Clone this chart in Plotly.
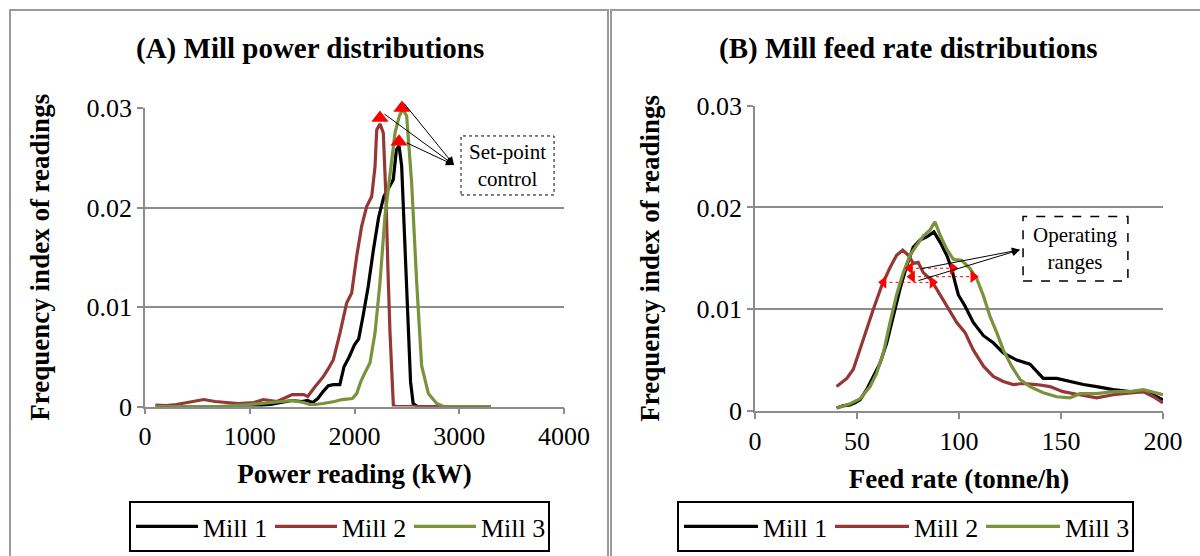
import plotly.graph_objects as go

# ---------------- DATA ----------------
# (A) Mill power distributions  (kW, frequency index)
power_m1_x = [100, 300, 500, 700, 900, 1000, 1100, 1200, 1300, 1400, 1500, 1550, 1600, 1650, 1700, 1750,
              1800, 1860, 1900, 1950, 2000, 2040, 2080, 2130, 2180, 2230, 2280, 2330, 2370, 2400, 2425,
              2450, 2480, 2510, 2535, 2560, 2600, 2800, 3000, 3300]
power_m1_y = [0, 0, 0, 0, 0, 0, 0.0001, 0.0002, 0.0004, 0.0006, 0.0005, 0.0006, 0.0004, 0.0008, 0.0015,
              0.0021, 0.0022, 0.0022, 0.0040, 0.0050, 0.0062, 0.0068, 0.0090, 0.0120, 0.0157, 0.0190,
              0.0211, 0.0221, 0.0228, 0.0258, 0.0262, 0.0242, 0.0158, 0.0075, 0.0025, 0.0003, 0, 0, 0, 0]

power_m2_x = [100, 200, 300, 450, 560, 670, 780, 890, 1040, 1130, 1260, 1330, 1406, 1516, 1553, 1625,
              1702, 1750, 1798, 1862, 1925, 1973, 2021, 2068, 2116, 2164, 2196, 2212, 2243, 2275, 2301,
              2320, 2339, 2371, 2400, 2600, 3000, 3300]
power_m2_y = [0.00015, 0.0001, 0.0002, 0.0005, 0.0007, 0.0005, 0.0004, 0.0003, 0.0004, 0.0007, 0.0005,
              0.0008, 0.0012, 0.0012, 0.0010, 0.0020, 0.0030, 0.0038, 0.0047, 0.0074, 0.0104, 0.0114,
              0.0151, 0.0181, 0.0201, 0.0211, 0.0241, 0.0278, 0.0284, 0.0275, 0.0208, 0.0135, 0.0074,
              0.0001, 0, 0, 0, 0]

power_m3_x = [100, 400, 700, 1000, 1100, 1187, 1300, 1406, 1460, 1516, 1570, 1625, 1700, 1760, 1810,
              1880, 1938, 1980, 2021, 2060, 2100, 2148, 2196, 2243, 2291, 2339, 2387, 2428, 2460, 2498,
              2546, 2594, 2641, 2705, 2785, 2850, 3000, 3300]
power_m3_y = [0, 0, 0, 0.0002, 0.0003, 0.0004, 0.0005, 0.0006, 0.0005, 0.0004, 0.0002, 0.0002, 0.0003,
              0.0004, 0.0005, 0.0007, 0.0008, 0.0008, 0.0013, 0.0025, 0.0034, 0.0044, 0.0074, 0.0124,
              0.0191, 0.0235, 0.0275, 0.0292, 0.0299, 0.0292, 0.0224, 0.0124, 0.0041, 0.0013, 0.0003,
              0, 0, 0]

# set-point markers (peaks)
setpoint_x = [2425, 2243, 2453]
setpoint_y = [0.0266, 0.0290, 0.0300]

# (B) Mill feed rate distributions (tonne/h, frequency index)
feed_m1_x = [40, 43, 46.6, 49, 51.5, 54.7, 58, 61.3, 64.6, 67.8, 71.1, 74.4, 77.6, 80.9, 84.2, 87.7, 90.7,
             94, 96.4, 98, 99.7, 103, 107, 112, 116.8, 121.7, 128.3, 134.8, 141.3, 147.9, 154.4, 161,
             167.5, 175.6, 183.8, 192, 196, 200]
feed_m1_y = [0.0003, 0.0005, 0.0006, 0.0008, 0.0011, 0.0021, 0.0034, 0.0047, 0.0067, 0.0093, 0.0120,
             0.0143, 0.0161, 0.0168, 0.0171, 0.0176, 0.0166, 0.0153, 0.0140, 0.0127, 0.0114, 0.0103,
             0.0087, 0.0074, 0.0067, 0.0057, 0.0050, 0.0046, 0.0032, 0.0032, 0.0029, 0.0026, 0.0024,
             0.0021, 0.0019, 0.0019, 0.0015, 0.0011]

feed_m2_x = [40, 45, 48.2, 51.5, 54.7, 58, 62.1, 66.2, 69.4, 72.4, 75.2, 77.6, 80, 82.5, 85.8, 89, 94,
             98.9, 103, 107, 112, 116.8, 121.7, 126.6, 131.5, 138, 144.6, 151, 159, 167.5, 175.6, 183.8,
             190.3, 195.3, 200]
feed_m2_y = [0.0024, 0.0032, 0.0041, 0.0060, 0.0080, 0.0100, 0.0123, 0.0141, 0.0153, 0.0158, 0.0153,
             0.0145, 0.0146, 0.0136, 0.0130, 0.0120, 0.0103, 0.0087, 0.0077, 0.0060, 0.0044, 0.0034,
             0.0029, 0.0026, 0.0027, 0.0026, 0.0024, 0.0019, 0.0016, 0.0013, 0.0016, 0.0018, 0.0019,
             0.0014, 0.0008]

feed_m3_x = [40, 46.6, 51.5, 56.4, 59.6, 62.9, 66.2, 69.4, 72.7, 76, 79.3, 82.5, 85.8, 88.2, 90.7, 94,
             97.2, 101.3, 105.4, 108.7, 112, 115.2, 118.5, 121.7, 125.8, 129.9, 134.8, 141.3, 147.9,
             154.4, 159.3, 167.5, 175.6, 183.8, 190.3, 196.9, 200]
feed_m3_y = [0.0003, 0.0007, 0.0012, 0.0024, 0.0037, 0.0057, 0.0087, 0.0114, 0.0136, 0.0153, 0.0163,
             0.0172, 0.0178, 0.0186, 0.0173, 0.0159, 0.0149, 0.0148, 0.0140, 0.0130, 0.0113, 0.0093,
             0.0077, 0.0060, 0.0044, 0.0031, 0.0024, 0.0018, 0.0014, 0.0013, 0.0017, 0.0017, 0.0019,
             0.0019, 0.0021, 0.0018, 0.0016]

# operating ranges (start, end, level) per mill
range_m1 = [76, 97, 0.01403]
range_m2 = [63, 87, 0.01264]
range_m3 = [77, 107, 0.01320]

mill_names = ["Mill 1", "Mill 2", "Mill 3"]
mill_colors = ["#000000", "#953735", "#77933C"]

# ---------------- FIGURE ----------------
W, H = 1200, 556
FONT = "Liberation Serif"


def px(xp):
    return xp / W


def py(yp):
    return 1 - yp / H


fig = go.Figure()

power = [(power_m1_x, power_m1_y), (power_m2_x, power_m2_y), (power_m3_x, power_m3_y)]
feed = [(feed_m1_x, feed_m1_y), (feed_m2_x, feed_m2_y), (feed_m3_x, feed_m3_y)]

for (xs, ys), name, col in zip(power, mill_names, mill_colors):
    fig.add_trace(go.Scatter(x=xs, y=ys, mode="lines", name=name, line=dict(color=col, width=3.2),
                             xaxis="x", yaxis="y", legend="legend"))
for (xs, ys), name, col in zip(feed, mill_names, mill_colors):
    fig.add_trace(go.Scatter(x=xs, y=ys, mode="lines", name=name, line=dict(color=col, width=3.2),
                             xaxis="x2", yaxis="y2", legend="legend2"))

# set-point triangles
fig.add_trace(go.Scatter(x=setpoint_x, y=setpoint_y, mode="markers", showlegend=False,
                         marker=dict(symbol="triangle-up", size=15, color="#FF0000"),
                         xaxis="x", yaxis="y", cliponaxis=False))

# operating range double arrows
for r in [range_m1, range_m3, range_m2]:
    fig.add_trace(go.Scatter(x=[r[0], r[1]], y=[r[2], r[2]], mode="lines+markers", showlegend=False,
                             line=dict(color="#FF0000", width=1, dash="dot"),
                             marker=dict(symbol=["triangle-left", "triangle-right"], size=11,
                                         color="#FF0000"),
                             xaxis="x2", yaxis="y2"))

axis_common = dict(showline=True, linecolor="#8C8C8C", linewidth=1.5, ticks="outside", ticklen=6,
                   tickcolor="#8C8C8C", tickwidth=1.5, zeroline=False,
                   tickfont=dict(family=FONT, size=26, color="black"))

fig.update_layout(
    width=W, height=H, margin=dict(l=0, r=0, t=0, b=0, autoexpand=False),
    paper_bgcolor="white", plot_bgcolor="white",
    font=dict(family=FONT, color="black"),
    xaxis=dict(domain=[px(145), px(564)], range=[0, 4000], dtick=1000, showgrid=False, anchor="y",
               title=dict(text="<b>Power reading (kW)</b>", font=dict(family=FONT, size=27), standoff=14),
               **axis_common),
    yaxis=dict(domain=[py(406.5), py(108)], range=[0, 0.03], dtick=0.01, showgrid=True,
               gridcolor="#8C8C8C", gridwidth=1.5, anchor="x",
               title=dict(text="<b>Frequency index of readings</b>", font=dict(family=FONT, size=27),
                          standoff=29),
               **axis_common),
    xaxis2=dict(domain=[px(755), px(1163)], range=[0, 200], dtick=50, showgrid=False, anchor="y2",
                title=dict(text="<b>Feed rate (tonne/h)</b>", font=dict(family=FONT, size=27), standoff=14),
                **axis_common),
    yaxis2=dict(domain=[py(411), py(105.7)], range=[0, 0.03], dtick=0.01, showgrid=True,
                gridcolor="#8C8C8C", gridwidth=1.5, anchor="x2",
                title=dict(text="<b>Frequency index of readings</b>", font=dict(family=FONT, size=27),
                           standoff=29),
                **axis_common),
    legend=dict(orientation="h", x=px(129), y=py(501), xanchor="left", yanchor="top",
                bordercolor="black", borderwidth=2, font=dict(family=FONT, size=26),
                itemwidth=62, entrywidth=62, entrywidthmode="pixels"),
    legend2=dict(orientation="h", x=px(677), y=py(501), xanchor="left", yanchor="top",
                 bordercolor="black", borderwidth=2, font=dict(family=FONT, size=26),
                 itemwidth=74, entrywidth=62, entrywidthmode="pixels"),
)

# panel frames
fig.add_shape(type="rect", xref="paper", yref="paper", x0=px(10), x1=px(608), y0=-0.1, y1=py(10),
              line=dict(color="#9A9A9A", width=2), layer="below")
fig.add_shape(type="rect", xref="paper", yref="paper", x0=px(611), x1=1.1, y0=-0.1, y1=py(10),
              line=dict(color="#9A9A9A", width=2), layer="below")

# panel titles
fig.add_annotation(text="<b>(A) Mill power distributions</b>", xref="paper", yref="paper",
                   x=px(310), y=py(48), xanchor="center", yanchor="middle", showarrow=False,
                   font=dict(family=FONT, size=29))
fig.add_annotation(text="<b>(B) Mill feed rate distributions</b>", xref="paper", yref="paper",
                   x=px(909), y=py(48), xanchor="center", yanchor="middle", showarrow=False,
                   font=dict(family=FONT, size=29))

# Set-point control box + arrows
fig.add_shape(type="rect", xref="x", yref="y", x0=3017, x1=3905, y0=0.02126, y1=0.02719,
              line=dict(color="black", width=1, dash="dot"))
fig.add_annotation(text="Set-point<br>control", xref="x", yref="y", x=3461, y=0.02422,
                   xanchor="center", yanchor="middle", showarrow=False, font=dict(family=FONT, size=21))
for tx, ty in [(2272, 0.0295), (2463, 0.0306), (2482, 0.02658)]:
    fig.add_annotation(text="", xref="x", yref="y", x=2950, y=0.02427, axref="x", ayref="y",
                       ax=tx, ay=ty, showarrow=True, arrowhead=2, arrowsize=1.6, arrowwidth=1,
                       arrowcolor="black")

# Operating ranges box + arrows
fig.add_shape(type="rect", xref="x2", yref="y2", x0=131.4, x1=182.8, y0=0.01277, y1=0.01911,
              line=dict(color="black", width=1.5, dash="dash"))
fig.add_annotation(text="Operating<br>ranges", xref="x2", yref="y2", x=157.1, y=0.01594,
                   xanchor="center", yanchor="middle", showarrow=False, font=dict(family=FONT, size=21))
for tx, ty in [(80.9, 0.01396), (79.4, 0.01277)]:
    fig.add_annotation(text="", xref="x2", yref="y2", x=129.9, y=0.01584, axref="x2", ayref="y2",
                       ax=tx, ay=ty, showarrow=True, arrowhead=2, arrowsize=1.6, arrowwidth=1,
                       arrowcolor="black")

fig.write_html("out.html", config={"displayModeBar": False},
               post_script="document.body.style.margin='0';document.body.style.overflow='hidden';")
